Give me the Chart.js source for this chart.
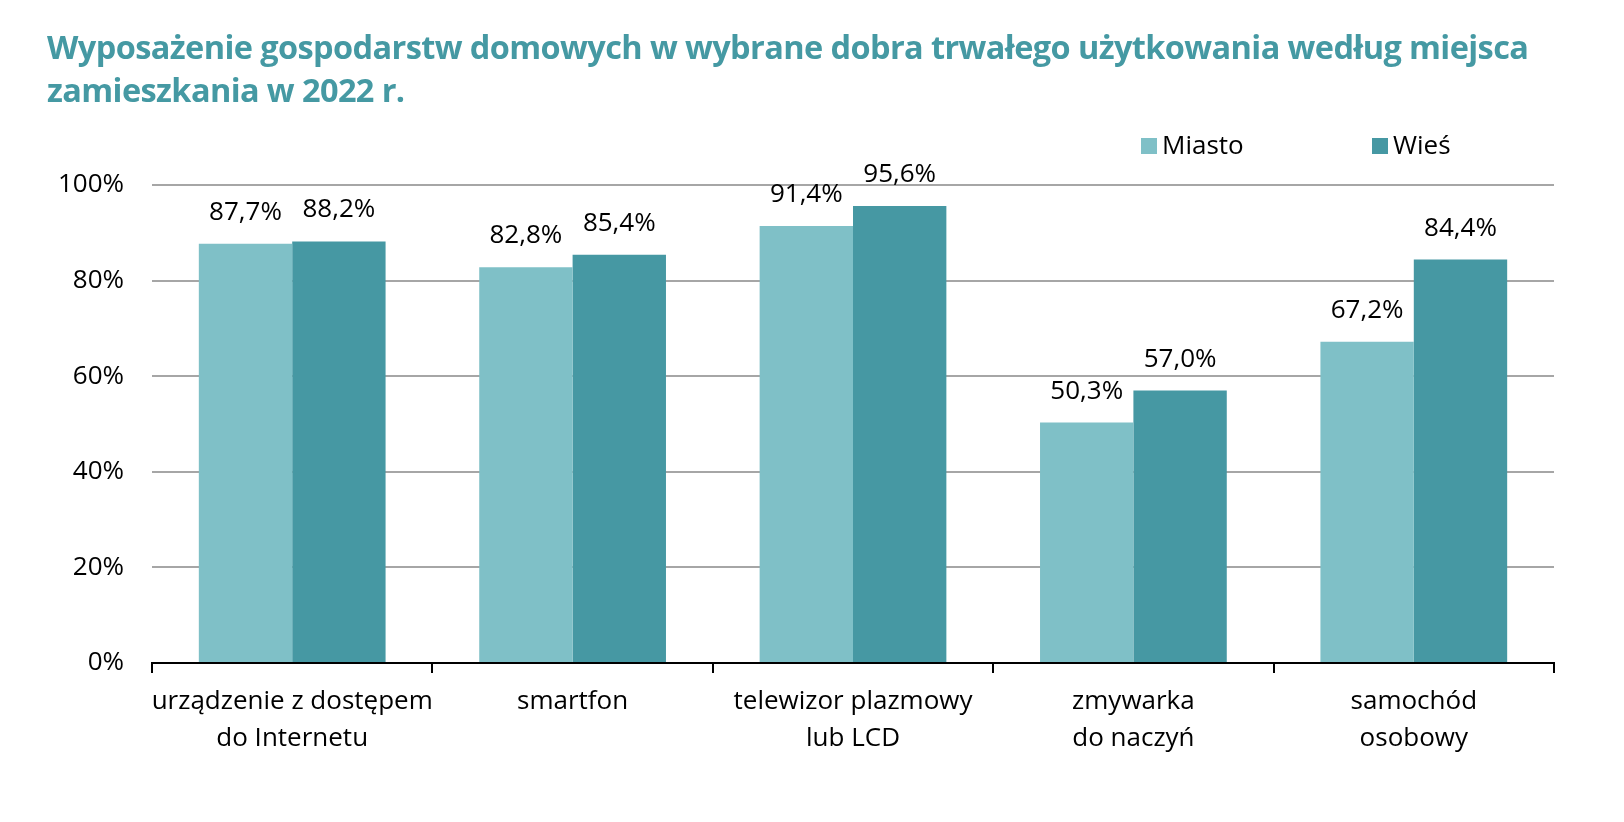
<!DOCTYPE html>
<html><head><meta charset="utf-8">
<script src="https://cdn.jsdelivr.net/npm/chart.js@4"></script>
<style>
html,body{margin:0;padding:0;background:#fff;}
#wrap{position:relative;width:1624px;height:822px;overflow:hidden;}
#title{position:absolute;left:47px;top:25px;font-family:"Open Sans";font-weight:700;font-size:32.5px;line-height:43px;color:#4599a3;letter-spacing:-0.6px;white-space:nowrap;}
.leg{position:absolute;top:128px;font-family:"Open Sans";font-size:26px;line-height:32px;color:#000;}
.sw{display:inline-block;width:16px;height:16px;margin-right:5px;vertical-align:0px;}
canvas{position:absolute;left:0;top:0;}
</style></head>
<body><div id="wrap">
<canvas id="c" width="1624" height="822"></canvas>
<div id="title">Wyposażenie gospodarstw domowych w wybrane dobra trwałego użytkowania według miejsca<br>zamieszkania w 2022 r.</div>
<div class="leg" style="left:1141px"><span class="sw" style="background:#7fc0c7"></span>Miasto</div>
<div class="leg" style="left:1372px"><span class="sw" style="background:#4698a3"></span>Wieś</div>
</div>
<script>
const categories = [
  ["urządzenie z dostępem","do Internetu"],
  ["smartfon"],
  ["telewizor plazmowy","lub LCD"],
  ["zmywarka","do naczyń"],
  ["samochód","osobowy"]
];
const miasto = [87.7, 82.8, 91.4, 50.3, 67.2];
const wies = [88.2, 85.4, 95.6, 57.0, 84.4];
const seriesNames = ["Miasto","Wieś"];
const yTicks = [0,20,40,60,80,100];

const FONT = "Open Sans";
const labelPlugin = {
  id:'valueLabels',
  afterDatasetsDraw(chart){
    const ctx = chart.ctx;
    ctx.save();
    ctx.font = '26px "'+FONT+'"';
    ctx.fillStyle = '#000';
    ctx.textAlign = 'center';
    ctx.textBaseline = 'alphabetic';
    chart.data.datasets.forEach((ds,i)=>{
      chart.getDatasetMeta(i).data.forEach((el,j)=>{
        const v = ds.data[j];
        ctx.fillText(v.toFixed(1).replace('.',',')+'%', el.x, el.y-24);
      });
    });
    ctx.restore();
  }
};

new Chart(document.getElementById('c'),{
  type:'bar',
  data:{
    labels:categories,
    datasets:[
      {label:seriesNames[0],data:miasto,backgroundColor:'#7fc0c7',categoryPercentage:0.666,barPercentage:1.0},
      {label:seriesNames[1],data:wies,backgroundColor:'#4698a3',categoryPercentage:0.666,barPercentage:1.0}
    ]
  },
  options:{
    responsive:false,
    animation:false,
    events:[],
    layout:{padding:{left:0,right:70,top:185,bottom:0}},
    plugins:{legend:{display:false},title:{display:false},tooltip:{enabled:false}},
    scales:{
      x:{
        offset:true,
        grid:{offset:true,drawOnChartArea:false,drawTicks:true,tickLength:10,color:'#000',lineWidth:2},
        border:{display:true,color:'#000',width:2},
        ticks:{font:{family:FONT,size:26,lineHeight:1.42},color:'#000',padding:10,maxRotation:0,autoSkip:false},
        afterFit(s){s.height = 822-663;}
      },
      y:{
        min:0,max:100,
        afterBuildTicks(s){s.ticks = yTicks.map(v=>({value:v}));},
        grid:{color:'#a6a6a6',lineWidth:2,drawTicks:false},
        border:{display:false},
        ticks:{font:{family:FONT,size:26},color:'#000',padding:28,callback:v=>v+'%'},
        afterFit(s){s.width = 152;}
      }
    }
  },
  plugins:[labelPlugin]
});
</script>
</body></html>
